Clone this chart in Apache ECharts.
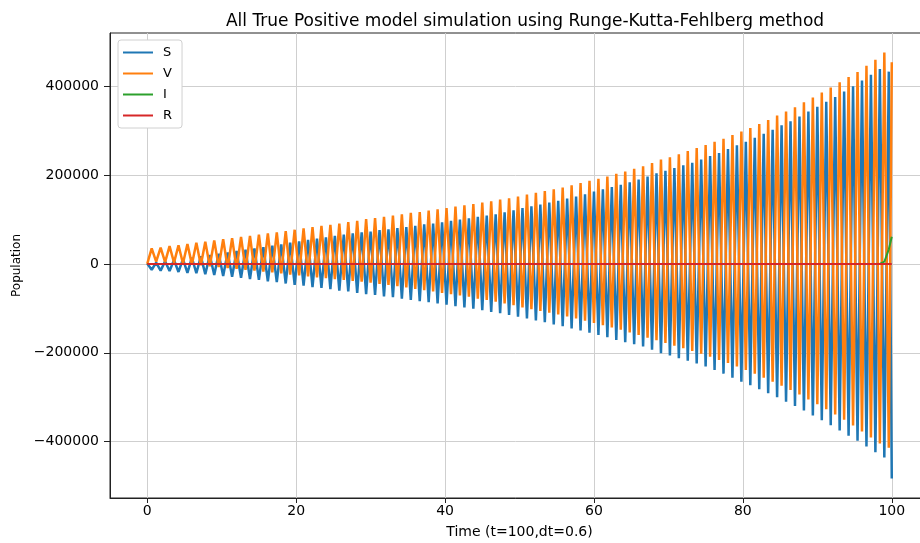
<!DOCTYPE html>
<html>
<head>
<meta charset="utf-8">
<script src="https://cdn.jsdelivr.net/npm/echarts@6/dist/echarts.min.js"></script>
<style>html,body{margin:0;padding:0;background:#fff}#c{width:920px;height:543px}</style>
</head>
<body>
<div id="c"></div>
<script>
// Time steps (dt = 0.6): even steps and odd steps of the solver
const timeEven = [0,1.2,2.4,3.6,4.8,6,7.2,8.4,9.6,10.8,12,13.2,14.4,15.6,16.8,18,19.2,20.4,21.6,22.8,24,25.2,26.4,27.6,28.8,30,31.2,32.4,33.6,34.8,36,37.2,38.4,39.6,40.8,42,43.2,44.4,45.6,46.8,48,49.2,50.4,51.6,52.8,54,55.2,56.4,57.6,58.8,60,61.2,62.4,63.6,64.8,66,67.2,68.4,69.6,70.8,72,73.2,74.4,75.6,76.8,78,79.2,80.4,81.6,82.8,84,85.2,86.4,87.6,88.8,90,91.2,92.4,93.6,94.8,96,97.2,98.4,99.6];
const timeOdd = [0.6,1.8,3,4.2,5.4,6.6,7.8,9,10.2,11.4,12.6,13.8,15,16.2,17.4,18.6,19.8,21,22.2,23.4,24.6,25.8,27,28.2,29.4,30.6,31.8,33,34.2,35.4,36.6,37.8,39,40.2,41.4,42.6,43.8,45,46.2,47.4,48.6,49.8,51,52.2,53.4,54.6,55.8,57,58.2,59.4,60.6,61.8,63,64.2,65.4,66.6,67.8,69,70.2,71.4,72.6,73.8,75,76.2,77.4,78.6,79.8,81,82.2,83.4,84.6,85.8,87,88.2,89.4,90.6,91.8,93,94.2,95.4,96.6,97.8,99,100];

// S at even steps (upper swing) and odd steps (lower swing)
const sEven = [1000,3000,6000,9000,11000,14000,17000,20000,23000,26000,29000,32000,35000,38000,41000,44000,48000,51000,54000,57000,60000,63000,66000,69000,71000,73000,76000,78000,81000,83000,86000,89000,91000,94000,97000,100000,103000,106000,109000,112000,116000,121000,126000,130000,134000,138000,142000,147000,152000,157000,163000,168000,173000,178000,184000,190000,197000,204000,210000,216000,222000,228000,235000,243000,250000,259000,267000,275000,284000,293000,302000,312000,321000,332000,343000,354000,365000,376000,388000,400000,413000,426000,439000,433000];
const sOdd = [-13000,-15000,-16000,-18000,-20000,-21000,-23000,-25000,-27000,-29000,-31000,-34000,-36000,-39000,-41000,-44000,-47000,-49000,-52000,-54000,-57000,-60000,-62000,-65000,-68000,-70000,-73000,-75000,-78000,-81000,-84000,-86000,-89000,-92000,-95000,-98000,-101000,-104000,-108000,-111000,-115000,-119000,-123000,-127000,-131000,-136000,-140000,-145000,-150000,-155000,-160000,-165000,-171000,-176000,-181000,-186000,-193000,-201000,-206000,-212000,-218000,-224000,-231000,-239000,-247000,-256000,-265000,-273000,-282000,-291000,-300000,-310000,-320000,-330000,-341000,-352000,-363000,-375000,-387000,-398000,-411000,-424000,-436000,-483000];

// V at even steps (lower swing) and odd steps (upper swing)
const vEven = [0,5000,4000,3000,1000,-1000,-3000,-5000,-7000,-9000,-11000,-13000,-15000,-17000,-19000,-21000,-24000,-26000,-28000,-30000,-32000,-34000,-36000,-38000,-40000,-42000,-45000,-47000,-50000,-53000,-56000,-59000,-62000,-65000,-68000,-71000,-74000,-78000,-81000,-85000,-89000,-93000,-98000,-102000,-106000,-110000,-114000,-118000,-123000,-128000,-133000,-138000,-143000,-148000,-154000,-160000,-166000,-172000,-178000,-184000,-190000,-196000,-202000,-209000,-216000,-223000,-231000,-239000,-247000,-256000,-265000,-274000,-284000,-294000,-305000,-316000,-327000,-339000,-351000,-364000,-377000,-391000,-404000,-414000];
const vOdd = [35000,37000,40000,42000,45000,48000,50000,53000,56000,58000,61000,63000,66000,69000,71000,74000,77000,80000,83000,86000,88000,91000,94000,97000,101000,103000,106000,109000,112000,115000,117000,120000,123000,126000,129000,132000,135000,138000,141000,145000,148000,152000,156000,160000,164000,168000,172000,177000,182000,187000,192000,197000,203000,208000,214000,220000,227000,235000,240000,247000,254000,261000,268000,275000,282000,290000,298000,306000,315000,324000,334000,343000,353000,364000,375000,386000,397000,409000,421000,432000,446000,460000,476000,454000];

// I and R (flat at this scale; I rises at the very end)
const iTimes = [0,98.4,99,99.6,100];
const iValues = [0,0,5000,33000,61000];
const rTimes = [0,100];
const rValues = [0,0];

const xTicks = [0,20,40,60,80,100];
const yTicks = [-400000,-200000,0,200000,400000];

function pairs(ts, vs){ return ts.map((t,i)=>[t, vs[i]]); }
function merged(tA, vA, tB, vB){
  return pairs(tA, vA).concat(pairs(tB, vB)).sort((a,b)=>a[0]-b[0]);
}

const font = 'DejaVu Sans';
const chart = echarts.init(document.getElementById('c'), null, {renderer:'canvas'});
chart.setOption({
  animation: false,
  backgroundColor: '#fff',
  title: {
    text: 'All True Positive model simulation using Runge-Kutta-Fehlberg method',
    left: 520, top: 8, textAlign: 'center',
    textStyle: {fontFamily: font, fontSize: 17, fontWeight: 'normal', color: '#000'}
  },
  legend: {
    orient: 'vertical', left: 118, top: 40,
    data: ['S','V','I','R'],
    icon: 'rect', itemWidth: 30, itemHeight: 2, itemGap: 8,
    backgroundColor: '#fff', borderColor: '#d0d0d0', borderWidth: 1, borderRadius: 3,
    padding: [6, 10, 6, 5],
    textStyle: {fontFamily: font, fontSize: 13, color: '#000', padding: [0,0,0,5]}
  },
  grid: {left: 110, top: 33, width: 819, height: 465, outerBoundsMode: 'none', containLabel: false,
         show: true, borderColor: '#222', borderWidth: 1, backgroundColor: 'transparent'},
  xAxis: {
    type: 'value', min: -5, max: 105,
    name: 'Time (t=100,dt=0.6)', nameLocation: 'middle', nameGap: 27,
    nameTextStyle: {fontFamily: font, fontSize: 14, color: '#000'},
    axisLine: {show: true, onZero: false, lineStyle: {color: '#222'}},
    axisTick: {show: true, length: 5, lineStyle: {color: '#222'}, customValues: xTicks},
    axisLabel: {fontFamily: font, fontSize: 14, color: '#000', margin: 6, customValues: xTicks},
    splitLine: {show: true, lineStyle: {color: '#cfcfcf', width: 1}}
  },
  yAxis: {
    type: 'value', min: -527000, max: 520000,
    name: 'Population', nameLocation: 'middle', nameGap: 87, nameRotate: 90,
    nameTextStyle: {fontFamily: font, fontSize: 12, color: '#000'},
    axisLine: {show: true, onZero: false, lineStyle: {color: '#222'}},
    axisTick: {show: true, length: 6, lineStyle: {color: '#222'}, customValues: yTicks},
    axisLabel: {fontFamily: font, fontSize: 14, color: '#000', margin: 11, customValues: yTicks,
      formatter: v => v < 0 ? '\u2212' + Math.abs(v) : String(v)},
    splitLine: {show: true, lineStyle: {color: '#cfcfcf', width: 1}}
  },
  series: [
    {name: 'S', type: 'line', data: merged(timeEven, sEven, timeOdd, sOdd), showSymbol: false, symbol: 'none',
     lineStyle: {color: '#1f77b4', width: 2.5}, itemStyle: {color: '#1f77b4'}, z: 2},
    {name: 'V', type: 'line', data: merged(timeEven, vEven, timeOdd, vOdd), showSymbol: false, symbol: 'none',
     lineStyle: {color: '#ff7f0e', width: 2.5}, itemStyle: {color: '#ff7f0e'}, z: 3},
    {name: 'I', type: 'line', data: pairs(iTimes, iValues), showSymbol: false, symbol: 'none',
     lineStyle: {color: '#2ca02c', width: 2}, itemStyle: {color: '#2ca02c'}, z: 4},
    {name: 'R', type: 'line', data: pairs(rTimes, rValues), showSymbol: false, symbol: 'none',
     lineStyle: {color: '#d62728', width: 2}, itemStyle: {color: '#d62728'}, z: 5}
  ]
});
</script>
</body>
</html>
